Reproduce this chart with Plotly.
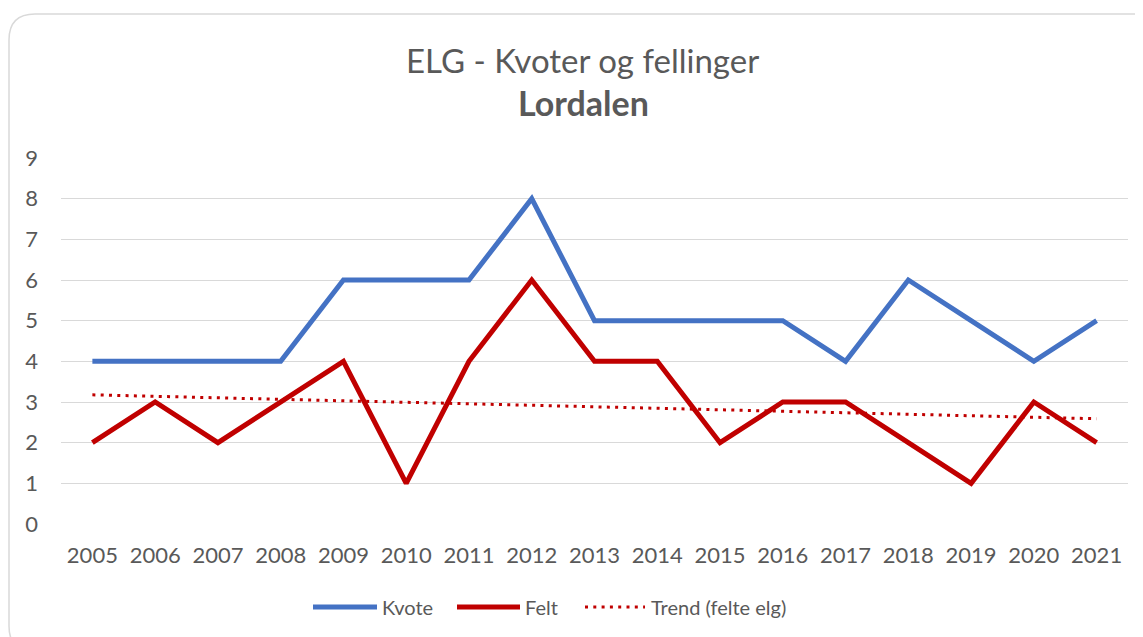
import numpy as np
import plotly.graph_objects as go

years = list(range(2005, 2022))
kvote = [4, 4, 4, 4, 6, 6, 6, 8, 5, 5, 5, 5, 4, 6, 5, 4, 5]
felt = [2, 3, 2, 3, 4, 1, 4, 6, 4, 4, 2, 3, 3, 2, 1, 3, 2]

title_main = "ELG - Kvoter og fellinger"
title_sub = "Lordalen"
y_ticks = list(range(0, 10))
series_names = ["Kvote", "Felt", "Trend (felte elg)"]
series_colors = ["#4472C4", "#C00000", "#C00000"]

# Linear trend of felled moose (as in Excel's linear trendline)
coef = np.polyfit(np.array(years, dtype=float), np.array(felt, dtype=float), 1)
trend = list(np.polyval(coef, np.array(years, dtype=float)))

FONT = "Lato"
TXT = "#595959"
OFF = 8  # page body margin
W, H = 1143 - OFF, 637 - OFF
L, R, T, B = 61 - OFF, 15, 158 - OFF, 113
PW, PH = W - L - R, H - T - B


def px(x):
    return (x - OFF - L) / PW


def py(y):
    return (H - B - (y - OFF)) / PH


fig = go.Figure()
fig.add_trace(go.Scatter(x=years, y=kvote, mode="lines", name=series_names[0],
                         line=dict(color=series_colors[0], width=5)))
fig.add_trace(go.Scatter(x=years, y=felt, mode="lines", name=series_names[1],
                         line=dict(color=series_colors[1], width=5)))
fig.add_trace(go.Scatter(x=years, y=trend, mode="lines", name=series_names[2],
                         line=dict(color=series_colors[2], width=3, dash="3px,5.3px")))

# chart-area border with rounded corners
r = 26
x0, x1, y0, y1 = 9, 1164, 14, 652
path = (f"M {px(x0)},{py(y1 - r)} L {px(x0)},{py(y0 + r)} "
        f"Q {px(x0)},{py(y0)} {px(x0 + r)},{py(y0)} "
        f"L {px(x1 - r)},{py(y0)} Q {px(x1)},{py(y0)} {px(x1)},{py(y0 + r)} "
        f"L {px(x1)},{py(y1 - r)} Q {px(x1)},{py(y1)} {px(x1 - r)},{py(y1)} "
        f"L {px(x0 + r)},{py(y1)} Q {px(x0)},{py(y1)} {px(x0)},{py(y1 - r)} Z")
fig.add_shape(type="path", path=path, xref="paper", yref="paper",
              line=dict(color="#D9D9D9", width=1.5), layer="below")

fig.add_annotation(text=title_main, xref="paper", yref="paper",
                   x=px(582), y=py(60), showarrow=False,
                   font=dict(family=FONT, size=33, color=TXT),
                   xanchor="center", yanchor="middle")
fig.add_annotation(text=f"<b>{title_sub}</b>", xref="paper", yref="paper",
                   x=px(583), y=py(103), showarrow=False,
                   font=dict(family=FONT, size=34, color=TXT),
                   xanchor="center", yanchor="middle")

# legend drawn like Excel's (long line samples)
leg_y = 607
leg_items = [(313, 377, 381), (457, 520, 524), (585, 645, 650)]
for i, (a, b, t) in enumerate(leg_items):
    if i < 2:
        fig.add_shape(type="line", xref="paper", yref="paper",
                      x0=px(a), x1=px(b), y0=py(leg_y), y1=py(leg_y),
                      line=dict(color=series_colors[i], width=5))
    else:
        fig.add_shape(type="line", xref="paper", yref="paper",
                      x0=px(a), x1=px(b), y0=py(leg_y), y1=py(leg_y),
                      line=dict(color=series_colors[i], width=3, dash="3px,5.3px"))
    fig.add_annotation(text=series_names[i], xref="paper", yref="paper",
                       x=px(t), y=py(leg_y), showarrow=False,
                       font=dict(family=FONT, size=20, color=TXT),
                       xanchor="left", yanchor="middle", xshift=-1)

fig.update_layout(
    width=W, height=H,
    margin=dict(l=L, r=R, t=T, b=B, pad=0),
    paper_bgcolor="white", plot_bgcolor="white",
    font=dict(family=FONT, size=22, color=TXT),
    showlegend=False,
    xaxis=dict(range=[2004.5, 2021.5], tickmode="array", tickvals=years,
               ticktext=[str(y) for y in years], showgrid=False,
               zeroline=False, showline=False, ticks="",
               ticklabelstandoff=16, fixedrange=True),
    yaxis=dict(range=[0, 9], tickmode="array", tickvals=y_ticks,
               showgrid=True, gridcolor="#D9D9D9", gridwidth=1.4,
               zeroline=False, showline=False, ticks="",
               ticklabelstandoff=22, fixedrange=True),
)

fig.write_html("out.html")
